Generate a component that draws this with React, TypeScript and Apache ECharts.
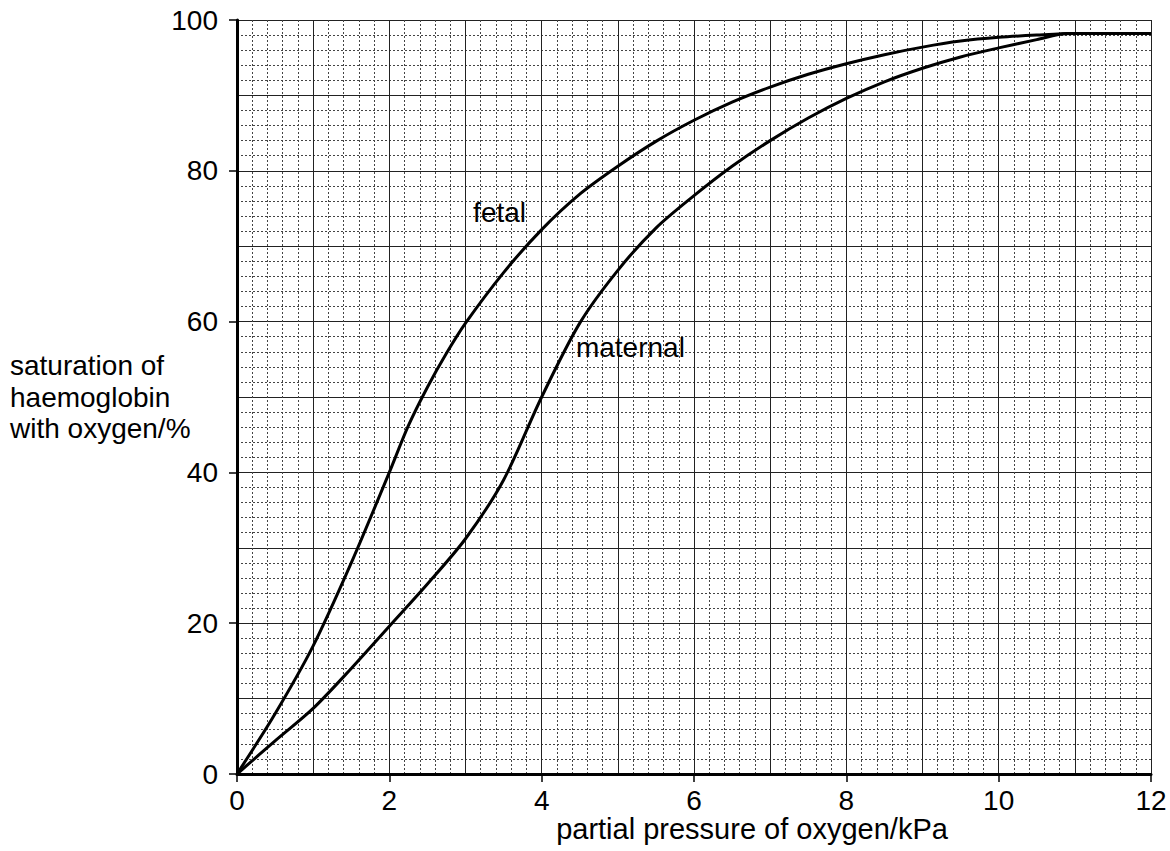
import React, { useEffect, useRef } from "react";
import * as echarts from "echarts";

const pressureTicks = [0, 2, 4, 6, 8, 10, 12];
const saturationTicks = [0, 20, 40, 60, 80, 100];

const fetalPressure = [0, 0.5, 1.0, 1.5, 2.0, 2.25, 2.5, 2.75, 3.0, 3.5, 4.0, 4.5, 5.0, 5.5, 6.0, 6.5, 7.0, 7.5, 8.0, 8.5, 9.0, 9.5, 10.0, 10.5, 11.0, 12.0];
const fetalSaturation = [0, 8, 17, 28, 40, 46.2, 51.3, 55.8, 59.8, 66.5, 72.2, 76.9, 80.6, 83.9, 86.7, 89.1, 91.1, 92.8, 94.2, 95.4, 96.4, 97.2, 97.7, 98.0, 98.2, 98.2];

const maternalPressure = [0, 0.5, 1.0, 1.5, 2.0, 2.5, 3.0, 3.5, 4.0, 4.5, 5.0, 5.5, 6.0, 6.5, 7.0, 7.5, 8.0, 8.5, 9.0, 9.5, 10.0, 10.5, 10.9, 12.0];
const maternalSaturation = [0, 4.4, 8.7, 14, 19.6, 25.2, 31.2, 39.0, 50, 59.8, 66.8, 72.4, 76.7, 80.6, 84, 87.0, 89.6, 91.8, 93.6, 95.1, 96.3, 97.4, 98.2, 98.2];

const curveLabels = ["fetal", "maternal"];
const labelPressure = [3.1, 4.45];
const labelSaturation = [74.5, 56.6];

const yTitleLines = ["saturation of", "haemoglobin", "with oxygen/%"];
const xTitle = "partial pressure of oxygen/kPa";

export default function App() {
  const ref = useRef<HTMLDivElement>(null);
  useEffect(() => {
    document.body.style.margin = "0";
    const chart = echarts.init(ref.current!, null, { renderer: "svg" });
    const font = "'Liberation Sans', Arial, Helvetica, sans-serif";
    const fs = 28;
    const zip = (xs: number[], ys: number[]) => xs.map((x, i) => [x, ys[i]]);
    const gridAxisX = {
      type: "value",
      min: 0,
      max: 12,
      interval: 1,
      position: "top",
      axisLine: { show: false },
      axisTick: { show: false },
      axisLabel: { show: false },
      splitLine: { show: true, lineStyle: { color: "#222", width: 1 } },
      minorTick: { show: false, splitNumber: 5 },
      minorSplitLine: { show: true, lineStyle: { color: "#444", width: 1, type: [2, 2] } },
    };
    const gridAxisY = {
      type: "value",
      min: 0,
      max: 100,
      interval: 10,
      position: "right",
      axisLine: { show: false },
      axisTick: { show: false },
      axisLabel: { show: false },
      splitLine: { show: true, lineStyle: { color: "#222", width: 1 } },
      minorTick: { show: false, splitNumber: 5 },
      minorSplitLine: { show: true, lineStyle: { color: "#444", width: 1, type: [2, 2] } },
    };
    const baseGraphics = [
      {
        type: "text",
        x: 10,
        y: 350,
        style: {
          text: yTitleLines.join("\n"),
          font: `${fs}px ${font}`,
          lineHeight: 31.5,
          fill: "#000",
          align: "left",
          verticalAlign: "top",
        },
      },
      {
        type: "text",
        x: 752,
        y: 829,
        style: {
          text: xTitle,
          font: `29px ${font}`,
          fill: "#000",
          align: "center",
          verticalAlign: "middle",
        },
      },
    ];
    chart.setOption({
      animation: false,
      backgroundColor: "#ffffff",
      grid: { left: 237, right: 19, top: 20, bottom: 77, containLabel: false },
      xAxis: [
        {
          type: "value",
          min: pressureTicks[0],
          max: pressureTicks[pressureTicks.length - 1],
          interval: pressureTicks[1] - pressureTicks[0],
          axisLine: { show: true, onZero: false, lineStyle: { color: "#000", width: 3 } },
          axisTick: { show: true, length: 8, lineStyle: { color: "#000", width: 1.5 } },
          axisLabel: { fontSize: fs, color: "#000", fontFamily: font, margin: 12 },
          splitLine: { show: false },
          z: 5,
        },
        gridAxisX,
      ],
      yAxis: [
        {
          type: "value",
          min: saturationTicks[0],
          max: saturationTicks[saturationTicks.length - 1],
          interval: saturationTicks[1] - saturationTicks[0],
          axisLine: { show: true, onZero: false, lineStyle: { color: "#000", width: 3 } },
          axisTick: { show: true, length: 8, lineStyle: { color: "#000", width: 1.5 } },
          axisLabel: { fontSize: fs, color: "#000", fontFamily: font, margin: 19 },
          splitLine: { show: false },
          z: 5,
        },
        gridAxisY,
      ],
      series: [
        {
          name: "fetal",
          type: "line",
          xAxisIndex: 0,
          yAxisIndex: 0,
          data: zip(fetalPressure, fetalSaturation),
          showSymbol: false,
          smooth: 0.3,
          lineStyle: { color: "#000", width: 3 },
          z: 10,
        },
        {
          name: "maternal",
          type: "line",
          xAxisIndex: 0,
          yAxisIndex: 0,
          data: zip(maternalPressure, maternalSaturation),
          showSymbol: false,
          smooth: 0.3,
          lineStyle: { color: "#000", width: 3 },
          z: 10,
        },
      ],
      graphic: baseGraphics,
    });
    const labelGraphics = curveLabels.map((t, i) => {
      const pt = chart.convertToPixel({ xAxisIndex: 0, yAxisIndex: 0 }, [labelPressure[i], labelSaturation[i]]) as number[];
      return {
        type: "text",
        x: pt[0],
        y: pt[1],
        z: 20,
        style: { text: t, font: `${fs}px ${font}`, fill: "#000", align: "left", verticalAlign: "middle" },
      };
    });
    chart.setOption({ graphic: [...baseGraphics, ...labelGraphics] });
    return () => chart.dispose();
  }, []);
  return <div ref={ref} style={{ width: 1170, height: 851 }} />;
}
